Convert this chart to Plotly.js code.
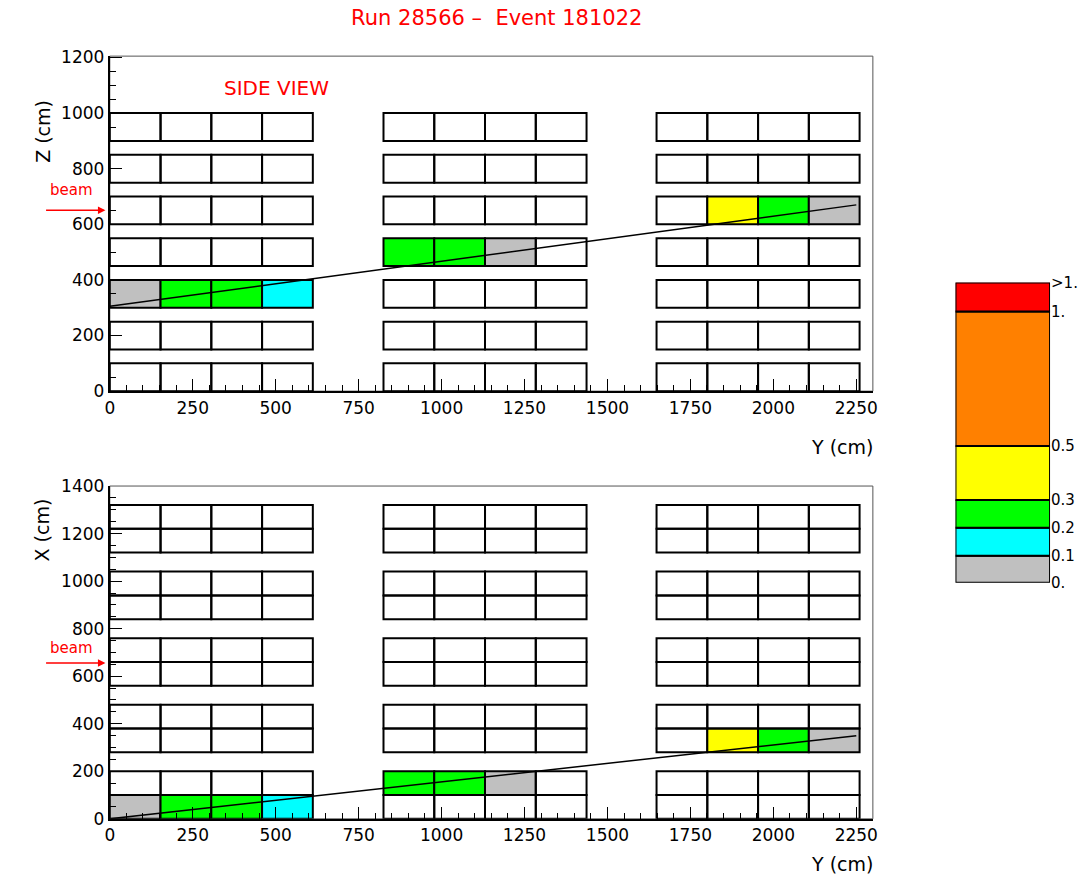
<!DOCTYPE html>
<html>
<head>
<script src="https://cdn.plot.ly/plotly-3.0.1.min.js"></script>
<style>body{margin:0;background:#fff}#chart{width:1087px;height:891px}</style>
</head>
<body>
<div id="chart"></div>
<script>
// Detector geometry (cm)
const blockWidth = 153;
const groupStarts = [0, 825, 1648];
const sideRows = [0, 150, 300, 450, 600, 750, 900];   // Z bottoms
const rowHeight = 100;
const topRows = [0, 100, 280, 380, 560, 660, 840, 940, 1120, 1220]; // X bottoms

// Hit cells: [group, column, rowBottom, colour]
const sideHits = [
    [0, 0, 300, '#c0c0c0'], [0, 1, 300, '#00ff00'], [0, 2, 300, '#00ff00'], [0, 3, 300, '#00ffff'],
    [1, 0, 450, '#00ff00'], [1, 1, 450, '#00ff00'], [1, 2, 450, '#c0c0c0'],
    [2, 1, 600, '#ffff00'], [2, 2, 600, '#00ff00'], [2, 3, 600, '#c0c0c0']
];
const topHits = [
    [0, 0, 0, '#c0c0c0'], [0, 1, 0, '#00ff00'], [0, 2, 0, '#00ff00'], [0, 3, 0, '#00ffff'],
    [1, 0, 100, '#00ff00'], [1, 1, 100, '#00ff00'], [1, 2, 100, '#c0c0c0'],
    [2, 1, 280, '#ffff00'], [2, 2, 280, '#00ff00'], [2, 3, 280, '#c0c0c0']
];

// Reconstructed tracks
const sideTrackY = [0, 2250];
const sideTrackZ = [305, 670];
const topTrackY = [0, 2250];
const topTrackX = [0, 350];

// Colour scale legend
const scaleColors = ['#c0c0c0', '#00ffff', '#00ff00', '#ffff00', '#ff8000', '#ff0000'];
const scaleHeights = [27, 28, 28, 54, 135, 29];
const scaleLabels = ['0.', '0.1', '0.2', '0.3', '0.5', '1.', '>1.'];

const shapes = [];
function addCells(rows, hits, xref, yref) {
    const fill = {};
    hits.forEach(h => { fill[h[0] + '_' + h[1] + '_' + h[2]] = h[3]; });
    groupStarts.forEach((g, gi) => {
        rows.forEach(r => {
            for (let c = 0; c < 4; c++) {
                const col = fill[gi + '_' + c + '_' + r];
                shapes.push({
                    type: 'rect', xref: xref, yref: yref, layer: 'below',
                    x0: g + c * blockWidth, x1: g + (c + 1) * blockWidth,
                    y0: r, y1: r + rowHeight,
                    line: { color: '#000', width: 2 },
                    fillcolor: col || 'rgba(0,0,0,0)'
                });
            }
        });
    });
}
addCells(sideRows, sideHits, 'x', 'y');
addCells(topRows, topHits, 'x2', 'y2');

const scaleBase = scaleHeights.map((h, i) => scaleHeights.slice(0, i).reduce((a, b) => a + b, 0));
const scaleTicks = scaleBase.concat([scaleBase[scaleBase.length - 1] + scaleHeights[scaleHeights.length - 1]]);

const data = [
    { x: sideTrackY, y: sideTrackZ, mode: 'lines', line: { color: '#000', width: 1.5 }, xaxis: 'x', yaxis: 'y', hoverinfo: 'skip' },
    { x: topTrackY, y: topTrackX, mode: 'lines', line: { color: '#000', width: 1.5 }, xaxis: 'x2', yaxis: 'y2', hoverinfo: 'skip' },
    {
        type: 'bar', x: scaleHeights.map(() => 0), y: scaleHeights, base: scaleBase,
        width: 1, marker: { color: scaleColors, line: { color: '#000', width: 2 } },
        xaxis: 'x3', yaxis: 'y3', hoverinfo: 'skip'
    }
];

const axisFont = { family: 'DejaVu Sans, sans-serif', size: 17, color: '#000' };
function xAxis(domain, anchor) {
    return {
        domain: domain, anchor: anchor, range: [0, 2300], tickvals: [0, 250, 500, 750, 1000, 1250, 1500, 1750, 2000, 2250],
        ticks: 'inside', ticklen: 12, tickcolor: '#000', tickfont: axisFont,
        minor: { dtick: 50, ticks: 'inside', ticklen: 6, tickcolor: '#000' },
        showline: true, linecolor: '#000', linewidth: 2, mirror: false,
        showgrid: false, zeroline: false
    };
}
function yAxis(domain, anchor, top, dt) {
    return {
        domain: domain, anchor: anchor, range: [0, top], dtick: dt,
        ticks: 'inside', ticklen: 12, tickcolor: '#000', tickfont: axisFont,
        minor: { dtick: dt / 4, ticks: 'inside', ticklen: 6, tickcolor: '#000' },
        showline: true, linecolor: '#000', linewidth: 2,
        showgrid: false, zeroline: false
    };
}

// thin frame lines (top/right)
shapes.push({ type: 'rect', xref: 'x domain', yref: 'y domain', x0: 0, x1: 1, y0: 0, y1: 1, line: { color: '#555', width: 1 }, layer: 'below' });
shapes.push({ type: 'rect', xref: 'x2 domain', yref: 'y2 domain', x0: 0, x1: 1, y0: 0, y1: 1, line: { color: '#555', width: 1 }, layer: 'below' });

const red = '#ff0000';
const textFont = { family: 'DejaVu Sans, sans-serif', size: 19, color: '#000' };
const beamFont = { family: 'DejaVu Sans, sans-serif', size: 15, color: red };
function beamArrow(y) {
    return { xref: 'paper', yref: 'paper', x: 0.097, y: y, ax: 0.041, ay: y, axref: 'paper', ayref: 'paper',
        text: '', showarrow: true, arrowhead: 2, arrowsize: 1, arrowwidth: 1.5, arrowcolor: red };
}
function beamLabel(y) {
    return { xref: 'paper', yref: 'paper', x: 0.066, y: y, xanchor: 'center', yanchor: 'middle', text: 'beam', showarrow: false, font: beamFont };
}
const layout = {
    width: 1087, height: 891,
    margin: { l: 0, r: 0, t: 0, b: 0 },
    paper_bgcolor: '#fff', plot_bgcolor: '#fff',
    showlegend: false,
    title: { text: 'Run 28566 \u2013  Event 181022', x: 0.457, xanchor: 'center', y: 0.98, yanchor: 'middle', font: { family: 'DejaVu Sans, sans-serif', size: 21, color: red } },
    xaxis: xAxis([0.101, 0.803], 'y'),
    yaxis: yAxis([0.561, 0.937], 'x', 1205, 200),
    xaxis2: xAxis([0.101, 0.803], 'y2'),
    yaxis2: yAxis([0.081, 0.4545], 'x2', 1400, 200),
    xaxis3: { domain: [0.879, 0.966], anchor: 'y3', range: [-0.5, 0.5], visible: false, fixedrange: true },
    yaxis3: {
        domain: [0.346, 0.683], anchor: 'x3', range: [0, scaleTicks[scaleTicks.length - 1]],
        side: 'right', tickvals: scaleTicks, ticktext: scaleLabels, ticks: '',
        tickfont: { family: 'DejaVu Sans, sans-serif', size: 15, color: '#000' },
        showgrid: false, zeroline: false, showline: false
    },
    shapes: shapes,
    annotations: [
        { xref: 'x', yref: 'y', x: 503, y: 1090, text: 'SIDE VIEW', showarrow: false, font: { family: 'DejaVu Sans, sans-serif', size: 20, color: red } },
        { xref: 'x2', yref: 'y2', x: 486, y: 1505, text: 'TOP VIEW', showarrow: false, font: { family: 'DejaVu Sans, sans-serif', size: 20, color: red } },
        { xref: 'paper', yref: 'paper', x: 0.805, y: 0.498, xanchor: 'right', text: 'Y (cm)', showarrow: false, font: textFont },
        { xref: 'paper', yref: 'paper', x: 0.805, y: 0.016, xanchor: 'right', text: 'Y (cm)', showarrow: false, font: textFont },
        { xref: 'paper', yref: 'paper', x: 0.027, y: 0.89, text: 'Z (cm)', textangle: -90, showarrow: false, font: textFont },
        { xref: 'paper', yref: 'paper', x: 0.027, y: 0.405, text: 'X (cm)', textangle: -90, showarrow: false, font: textFont },
        beamArrow(0.764),
        beamLabel(0.787),
        beamArrow(0.256),
        beamLabel(0.273)
    ]
};

Plotly.newPlot('chart', data, layout, { displayModeBar: false, staticPlot: true });
</script>
</body>
</html>
